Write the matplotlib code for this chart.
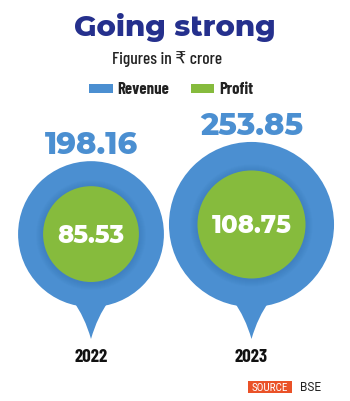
import matplotlib
matplotlib.use("Agg")
import matplotlib.pyplot as plt
from matplotlib.patches import Circle, PathPatch, Rectangle
from matplotlib.path import Path
import numpy as np

# ---- data ----
years = ["2022", "2023"]
revenue = [198.16, 253.85]
profit = [85.53, 108.75]
series_labels = ["Revenue", "Profit"]

# ---- style ----
BLUE = "#4b8fd1"
BLUE_DARK = "#2c5f9c"
GREEN = "#86bb3d"
NAVY = "#25308d"
ORANGE = "#ea5228"
NUM_FONT = ["Montserrat Alternates", "Lato", "DejaVu Sans"]
NARROW = ["Barlow Condensed", "DejaVu Sans"]

fig = plt.figure(figsize=(3.5, 4.02), dpi=100)
ax = fig.add_axes([0, 0, 1, 1])
ax.set_xlim(0, 350)
ax.set_ylim(402, 0)
ax.set_aspect("equal")
ax.axis("off")

k = 5.18          # radius scale: r = k * sqrt(value)
centers_x = [91, 251.5]
tip_y = 340
tail = 32

for i, yr in enumerate(years):
    cx = centers_x[i]
    rb = k * np.sqrt(revenue[i])
    rg = k * np.sqrt(profit[i])
    cy = tip_y - tail - rb
    # tail
    w = 18
    by = cy + np.sqrt(rb**2 - w**2)
    L = tip_y - by
    verts = [(cx - w, by - 4),
             (cx - 0.35 * w, by + 0.35 * L), (cx, tip_y),
             (cx + 0.35 * w, by + 0.35 * L), (cx + w, by - 4),
             (cx - w, by - 4)]
    codes = [Path.MOVETO, Path.CURVE3, Path.CURVE3, Path.CURVE3, Path.CURVE3, Path.CLOSEPOLY]
    ax.add_patch(PathPatch(Path(verts, codes), fc=BLUE, ec="none", zorder=1))
    ax.add_patch(Circle((cx, cy), rb, fc=BLUE, ec="none", zorder=2))
    # soft shadow around green
    for s in range(7, 0, -1):
        ax.add_patch(Circle((cx, cy + 1), rg + s, fc=BLUE_DARK, ec="none",
                            alpha=0.04, zorder=3))
    ax.add_patch(Circle((cx, cy), rg, fc=GREEN, ec="none", zorder=4))
    ax.text(cx, cy + 1, f"{profit[i]:.2f}", ha="center", va="center",
            fontsize=17.5, fontweight=800, color="white",
            family=NUM_FONT, zorder=5)
    ax.text(cx, cy - rb - 8, f"{revenue[i]:.2f}", ha="center", va="baseline",
            fontsize=22, fontweight=800, color=BLUE, family=NUM_FONT)
    ax.text(cx, 358, yr, ha="center", va="center", fontsize=13.5,
            fontweight="bold", color="#111111", family=NARROW)

# title & subtitle
ax.text(175, 36, "Going strong", ha="center", va="baseline", fontsize=21,
        fontweight=800, color=NAVY, family=NUM_FONT)
ax.text(167, 59, "Figures in \u20b9 crore", ha="center", va="center",
        fontsize=12.5, fontweight=500, color="#222222", family=NARROW)

# legend
ax.add_patch(Rectangle((89, 85), 24, 9, fc=BLUE, ec="none"))
ax.text(117, 89.5, series_labels[0], ha="left", va="center", fontsize=12,
        fontweight="bold", color="#222222", family=NARROW)
ax.add_patch(Rectangle((191, 85), 23, 9, fc=GREEN, ec="none"))
ax.text(219, 89.5, series_labels[1], ha="left", va="center", fontsize=12,
        fontweight="bold", color="#222222", family=NARROW)

# source
ax.add_patch(Rectangle((248, 382), 44, 11.5, fc=ORANGE, ec="none"))
ax.text(270, 388, "SOURCE", ha="center", va="center", fontsize=8,
        color="white", family=["Roboto Condensed", "DejaVu Sans"])
ax.text(300, 388, "BSE", ha="left", va="center", fontsize=8.5,
        color="#222222", family=["Roboto", "DejaVu Sans"])

fig.savefig("out.png", dpi=100, facecolor="white")
